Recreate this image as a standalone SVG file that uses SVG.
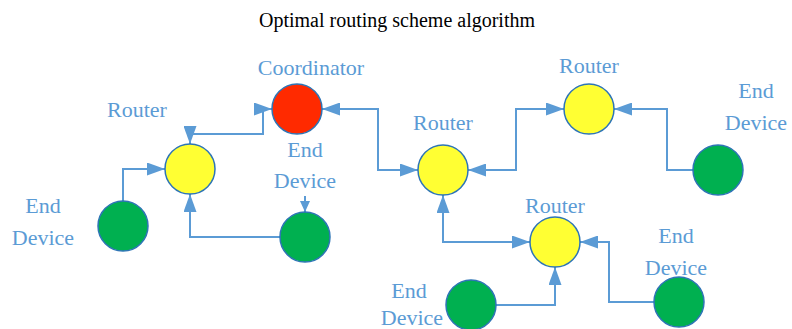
<svg xmlns="http://www.w3.org/2000/svg" width="792" height="329" viewBox="0 0 792 329">
<style>
.title{font-family:"Liberation Serif","Times New Roman",serif;font-size:20px;fill:#000;text-anchor:middle}
.lbl{font-family:"Liberation Serif","Times New Roman",serif;font-size:22px;fill:#5B9BD5;text-anchor:middle}
.conn{fill:none;stroke:#5B9BD5;stroke-width:2}
.node{stroke:#2E75B6;stroke-width:1.5}
.coord{fill:#FF2A00}
.router{fill:#FFFF33}
.dev{fill:#00B050}
</style>
<defs>
<marker id="ah" markerUnits="userSpaceOnUse" markerWidth="18" markerHeight="13" refX="18" refY="6.5" orient="auto-start-reverse">
<path d="M0,0 L18,6.5 L0,13 Z" fill="#5B9BD5"/>
</marker>
<marker id="ahs" markerUnits="userSpaceOnUse" markerWidth="11" markerHeight="10" refX="11" refY="5" orient="auto">
<path d="M0,0 L11,5 L0,10 Z" fill="#5B9BD5"/>
</marker>
</defs>
<text class="title" x="397" y="27">Optimal routing scheme algorithm</text>
<g id="connectors">
<path class="conn" d="M190,144 V134 H263 V109 H272" marker-start="url(#ah)" marker-end="url(#ah)"/>
<path class="conn" d="M123,201 V169 H165" marker-end="url(#ah)"/>
<path class="conn" d="M280,237 H190 V194" marker-end="url(#ah)"/>
<path class="conn" d="M305,196 V212" marker-end="url(#ahs)"/>
<path class="conn" d="M322,109 H378 V170 H418" marker-start="url(#ah)" marker-end="url(#ah)"/>
<path class="conn" d="M468,170 H516 V109 H564" marker-start="url(#ah)" marker-end="url(#ah)"/>
<path class="conn" d="M693,170 H667 V109 H614" marker-end="url(#ah)"/>
<path class="conn" d="M443,195 V242 H530" marker-start="url(#ah)" marker-end="url(#ah)"/>
<path class="conn" d="M496,305 H555 V267" marker-end="url(#ah)"/>
<path class="conn" d="M654,302 H609 V242 H580" marker-end="url(#ah)"/>
</g>
<g id="coordinator"><circle class="node coord" cx="297" cy="109" r="25"/><text class="lbl" x="311" y="75">Coordinator</text></g>
<g id="router1"><circle class="node router" cx="190" cy="169" r="25"/><text class="lbl" x="137" y="117">Router</text></g>
<g id="router2"><circle class="node router" cx="443" cy="170" r="25"/><text class="lbl" x="443" y="130">Router</text></g>
<g id="router3"><circle class="node router" cx="589" cy="109" r="25"/><text class="lbl" x="589" y="73">Router</text></g>
<g id="router4"><circle class="node router" cx="555" cy="242" r="25"/><text class="lbl" x="555" y="213">Router</text></g>
<g id="device1"><circle class="node dev" cx="123" cy="226" r="25"/><text class="lbl" x="43" y="213">End</text><text class="lbl" x="43" y="245">Device</text></g>
<g id="device2"><circle class="node dev" cx="305" cy="237" r="25"/><text class="lbl" x="305" y="157">End</text><text class="lbl" x="305" y="188">Device</text></g>
<g id="device3"><circle class="node dev" cx="718" cy="170" r="25"/><text class="lbl" x="756" y="98">End</text><text class="lbl" x="756" y="130">Device</text></g>
<g id="device4"><circle class="node dev" cx="471" cy="305" r="25"/><text class="lbl" x="409" y="298">End</text><text class="lbl" x="412" y="325">Device</text></g>
<g id="device5"><circle class="node dev" cx="679" cy="302" r="25"/><text class="lbl" x="676" y="243">End</text><text class="lbl" x="676" y="275">Device</text></g>
</svg>
